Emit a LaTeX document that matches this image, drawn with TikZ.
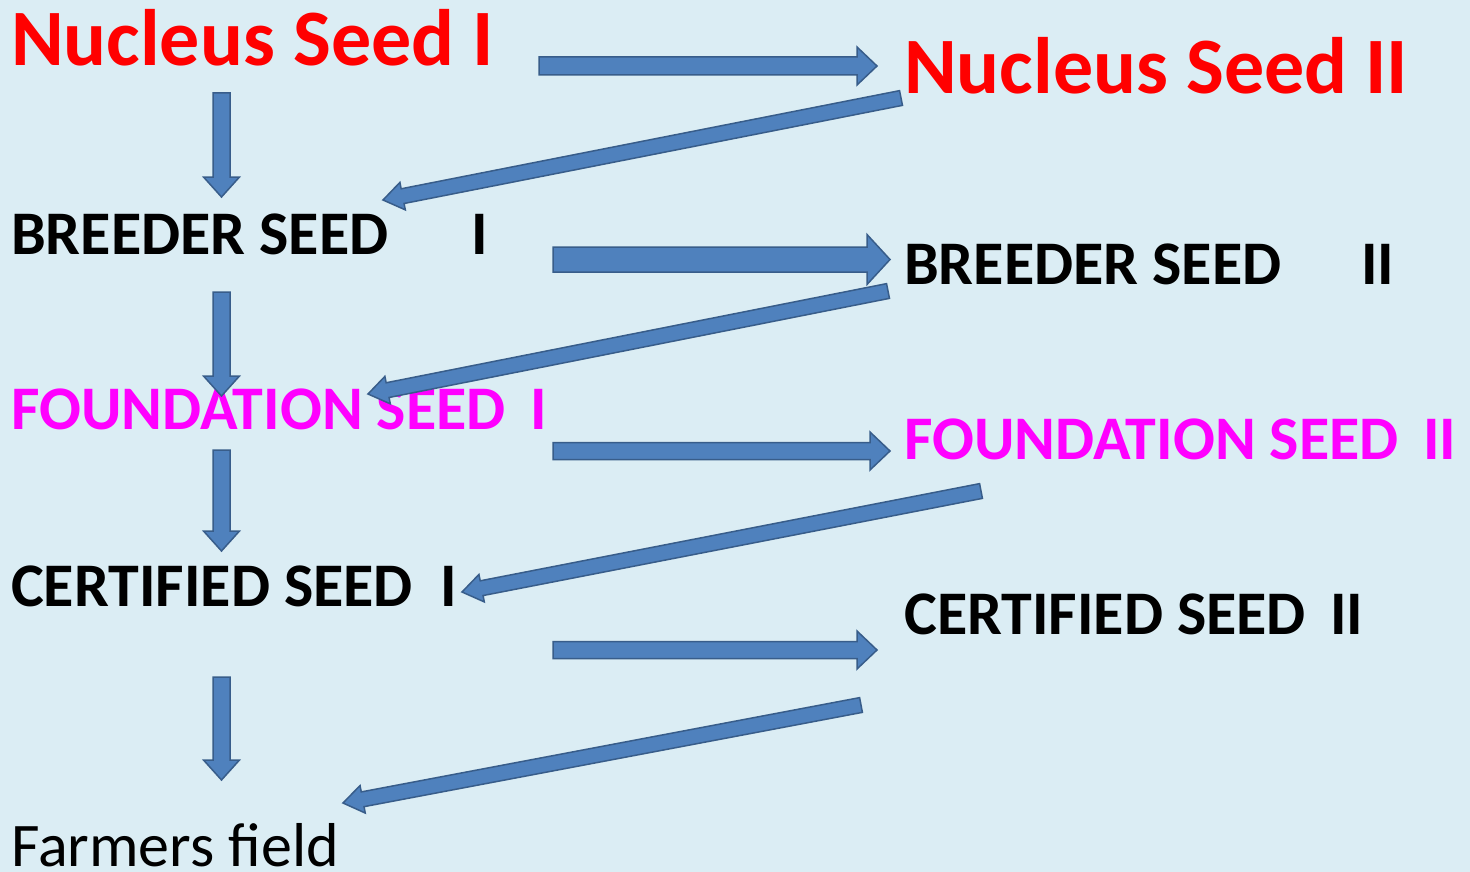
\documentclass[tikz,border=0pt]{standalone}
\usepackage{fontspec}
\setmainfont{Carlito}
\usetikzlibrary{calc}
\definecolor{bg}{RGB}{219,237,244}
\definecolor{arrowfill}{RGB}{79,129,189}
\definecolor{arrowline}{RGB}{56,93,138}
\definecolor{nred}{RGB}{255,0,0}
\definecolor{nmag}{RGB}{255,0,255}
\tikzset{
  blockarrow/.style={fill=arrowfill,draw=arrowline,line width=1.5pt,line join=miter},
  big/.style={anchor=base west,inner sep=0pt,font=\fontsize{80}{90}\bfseries\selectfont,text=nred},
  lbl/.style={anchor=base west,inner sep=0pt,font=\fontsize{62}{70}\bfseries\selectfont},
}
% from, to, shaft half width, head half width, head length
\newcommand\blockarrow[5]{%
  \coordinate (ba-h) at ($(#2)!#5!(#1)$);
  \path[blockarrow] ($(#1)!#3!90:(#2)$) -- ($(ba-h)!#3!-90:(#1)$) -- ($(ba-h)!#4!-90:(#1)$)
    -- (#2) -- ($(ba-h)!#4!90:(#1)$) -- ($(ba-h)!#3!90:(#1)$) -- ($(#1)!#3!-90:(#2)$) -- cycle;
}
\begin{document}
\begin{tikzpicture}[x=1pt,y=-1pt]
\fill[bg] (0,0) rectangle (1470,872);
\useasboundingbox (0,0) rectangle (1470,872);
% texts
\node[big] (n1) at (11,66) {Nucleus Seed I};
\node[big] (n2) at (904,94) {Nucleus Seed II};
\node[lbl] (b1) at (11,254) {\makebox[460pt][l]{BREEDER SEED}I};
\node[lbl] (b2) at (904,284) {\makebox[457pt][l]{BREEDER SEED}II};
\node[lbl,text=nmag] (f1) at (11,429) {\makebox[519pt][l]{FOUNDATION SEED}I};
\node[lbl,text=nmag] (f2) at (904,459) {\makebox[519pt][l]{FOUNDATION SEED}II};
\node[lbl] (c1) at (11,606) {\makebox[429pt][l]{CERTIFIED SEED}I};
\node[lbl] (c2) at (904,634) {\makebox[426pt][l]{CERTIFIED SEED}II};
\node[anchor=base west,inner sep=0pt,font=\fontsize{62}{70}\selectfont] (ff) at (11,866) {Farmers field};
% arrow end points
\coordinate (v1a) at (221.5,93);  \coordinate (v1b) at (221.5,197);
\coordinate (v2a) at (221.5,292); \coordinate (v2b) at (221.5,396);
\coordinate (v3a) at (221.5,450); \coordinate (v3b) at (221.5,551);
\coordinate (v4a) at (221.5,677); \coordinate (v4b) at (221.5,780);
\coordinate (h1a) at (539,66);    \coordinate (h1b) at (877,66);
\coordinate (h2a) at (553,259.5); \coordinate (h2b) at (890,259.5);
\coordinate (h3a) at (553,451);   \coordinate (h3b) at (890,451);
\coordinate (h4a) at (553,650);   \coordinate (h4b) at (877,650);
\coordinate (d1a) at (901,98);    \coordinate (d1b) at (383,200);
\coordinate (d2a) at (888,291);   \coordinate (d2b) at (368,394);
\coordinate (d3a) at (981,491);   \coordinate (d3b) at (462,592);
\coordinate (d4a) at (861,705);   \coordinate (d4b) at (343,803);
% arrows
\blockarrow{v1a}{v1b}{8.5pt}{18pt}{20pt}
\blockarrow{v2a}{v2b}{8.5pt}{18pt}{20pt}
\blockarrow{v3a}{v3b}{8.5pt}{18pt}{20pt}
\blockarrow{v4a}{v4b}{8.5pt}{18pt}{20pt}
\blockarrow{h1a}{h1b}{9pt}{19pt}{20pt}
\blockarrow{h2a}{h2b}{12.5pt}{25pt}{23pt}
\blockarrow{h3a}{h3b}{8.5pt}{19pt}{20pt}
\blockarrow{h4a}{h4b}{8.5pt}{19pt}{20pt}
\blockarrow{d1a}{d1b}{7.5pt}{14pt}{20pt}
\blockarrow{d2a}{d2b}{7.5pt}{14pt}{20pt}
\blockarrow{d3a}{d3b}{7.5pt}{14pt}{20pt}
\blockarrow{d4a}{d4b}{7.5pt}{14pt}{20pt}
\end{tikzpicture}
\end{document}
